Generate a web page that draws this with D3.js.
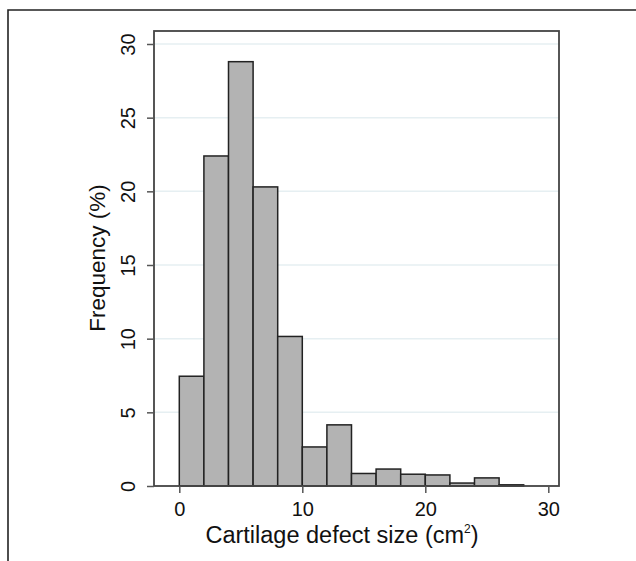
<!DOCTYPE html>
<html>
<head>
<meta charset="utf-8">
<script src="https://cdn.jsdelivr.net/npm/d3@7"></script>
<style>
  body { margin: 0; background: #fff; }
  text { font-family: "Liberation Sans", Arial, Helvetica, sans-serif; fill: #111; }
</style>
</head>
<body>
<svg id="my-svg" width="636" height="561"></svg>
<script>
// histogram bins (cm2), width 2
const binStart = [0, 2, 4, 6, 8, 10, 12, 14, 16, 18, 20, 22, 24, 26];
const frequency = [7.45, 22.4, 28.8, 20.3, 10.15, 2.65, 4.15, 0.85, 1.15, 0.8, 0.75, 0.2, 0.55, 0.08];
const binWidth = 2;
const xTicks = [0, 10, 20, 30];
const yTicks = [0, 5, 10, 15, 20, 25, 30];

const svg = d3.select("#my-svg");
const frame = {left: 154, right: 559, top: 31, bottom: 486};

// outer border (cropped figure box)
svg.append("path")
    .attr("d", "M8,561 V10 H636")
    .attr("fill", "none")
    .attr("stroke", "#222")
    .attr("stroke-width", 1.6);

const xScale = d3.scaleLinear()
    .domain([0, 30])
    .range([179.3, 548.3]);

const yScale = d3.scaleLinear()
    .domain([0, 30])
    .range([486, 44]);

// gridlines
svg.append("g")
    .selectAll("line")
    .data(yTicks.filter(d => d > 0))
    .join("line")
    .attr("x1", frame.left)
    .attr("x2", frame.right)
    .attr("y1", d => yScale(d))
    .attr("y2", d => yScale(d))
    .attr("stroke", "#e6eff2")
    .attr("stroke-width", 1.5);

// bars
svg.append("g")
    .selectAll("rect")
    .data(binStart.map((s, i) => ({s, f: frequency[i]})))
    .join("rect")
    .attr("x", d => xScale(d.s))
    .attr("width", d => xScale(d.s + binWidth) - xScale(d.s))
    .attr("y", d => yScale(d.f))
    .attr("height", d => yScale(0) - yScale(d.f))
    .attr("fill", "#b3b3b3")
    .attr("stroke", "#222")
    .attr("stroke-width", 1.5);

// plot frame
svg.append("rect")
    .attr("x", frame.left)
    .attr("y", frame.top)
    .attr("width", frame.right - frame.left)
    .attr("height", frame.bottom - frame.top)
    .attr("fill", "none")
    .attr("stroke", "#444")
    .attr("stroke-width", 1.8);

// x axis
const xAxis = svg.append("g")
    .attr("transform", `translate(0, ${frame.bottom})`)
    .call(d3.axisBottom(xScale).tickValues(xTicks).tickSize(7).tickPadding(9));
xAxis.select(".domain").remove();
xAxis.selectAll(".tick line").attr("stroke", "#555").attr("stroke-width", 1.5);
xAxis.selectAll(".tick text")
    .attr("font-size", 20)
    .attr("font-family", "Liberation Sans, Arial, sans-serif")
    .attr("fill", "#111");

// y axis
const yAxis = svg.append("g")
    .attr("transform", `translate(${frame.left}, 0)`)
    .call(d3.axisLeft(yScale).tickValues(yTicks).tickSize(7));
yAxis.select(".domain").remove();
yAxis.selectAll(".tick line").attr("stroke", "#555").attr("stroke-width", 1.5);
yAxis.selectAll(".tick text")
    .attr("x", null).attr("dy", null)
    .attr("transform", "translate(-19, 0) rotate(-90)")
    .attr("text-anchor", "middle")
    .attr("font-size", 20)
    .attr("font-family", "Liberation Sans, Arial, sans-serif")
    .attr("fill", "#111");

// titles
svg.append("text")
    .attr("transform", "translate(105, 258) rotate(-90)")
    .attr("text-anchor", "middle")
    .attr("font-size", 22.5)
    .text("Frequency (%)");

const xt = svg.append("text")
    .attr("x", 342)
    .attr("y", 543)
    .attr("text-anchor", "middle")
    .attr("font-size", 23.5);
xt.append("tspan").text("Cartilage defect size (cm");
xt.append("tspan").attr("font-size", 12).attr("dy", -10).text("2");
xt.append("tspan").attr("dy", 10).text(")");
</script>
</body>
</html>
